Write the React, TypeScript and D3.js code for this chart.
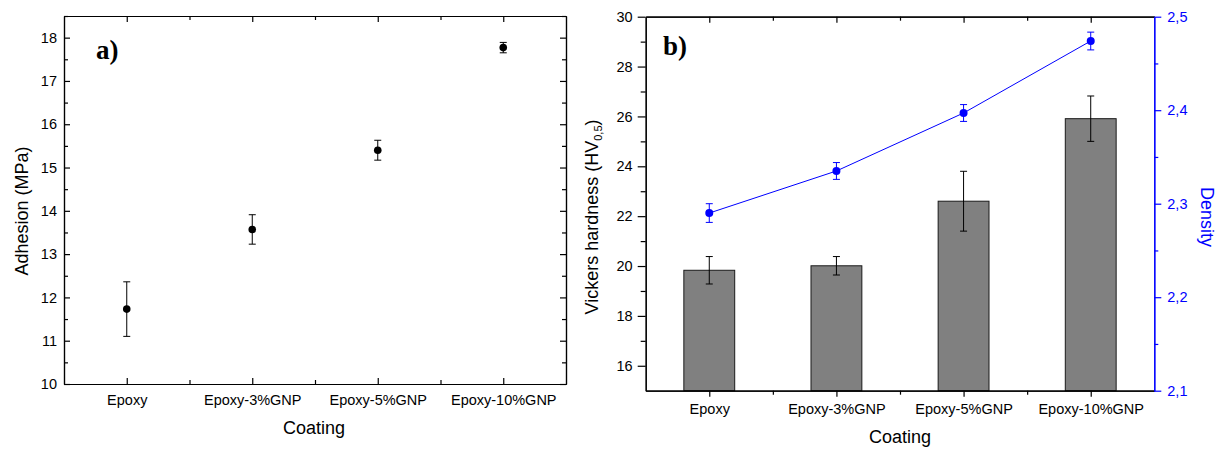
import React, { useRef, useEffect } from 'react'
import * as d3 from 'd3'

// categories on both panels
const coatings = ["Epoxy", "Epoxy-3%GNP", "Epoxy-5%GNP", "Epoxy-10%GNP"]

// panel a) adhesion (MPa)
const adhesion = [11.73, 13.57, 15.40, 17.77]
const adhesionErr = [0.63, 0.34, 0.23, 0.12]

// panel b) Vickers hardness bars + density line
const hardness = [19.83, 20.01, 22.60, 25.91]
const hardnessErr = [0.55, 0.37, 1.20, 0.91]
const density = [2.290, 2.335, 2.397, 2.474]
const densityErr = [0.010, 0.009, 0.009, 0.0095]

const adhesionTicks = [10, 11, 12, 13, 14, 15, 16, 17, 18]
const hardnessTicks = [16, 18, 20, 22, 24, 26, 28, 30]
const densityTicks = [2.1, 2.2, 2.3, 2.4, 2.5]

const FONT = '"Liberation Sans", Arial, sans-serif'
const BLUE = '#0000ff'

const commaFmt = d3.formatLocale({ decimal: ",", thousands: ".", grouping: [3], currency: ["", ""] }).format(".1f")

const App = () => {
  const ref = useRef<SVGSVGElement>(null)

  useEffect(() => {
    const svg = d3.select(ref.current)
    svg.selectAll("*").remove()

    const styleAxis = (g: any, color = "#000") => {
      g.selectAll("path.domain").attr("stroke", color).attr("stroke-width", 1.2)
      g.selectAll(".tick line").attr("stroke", color).attr("stroke-width", 1.2)
      g.selectAll("text").attr("font-family", FONT).attr("font-size", 14.5).attr("fill", color)
      g.attr("font-family", FONT)
    }

    // error bar with caps
    const errBar = (g: any, cx: number, y1: number, y2: number) => {
      g.append("line").attr("x1", cx).attr("x2", cx).attr("y1", y1).attr("y2", y2)
      g.append("line").attr("x1", cx - 3.5).attr("x2", cx + 3.5).attr("y1", y1).attr("y2", y1)
      g.append("line").attr("x1", cx - 3.5).attr("x2", cx + 3.5).attr("y1", y2).attr("y2", y2)
    }

    // ---------------- panel a ----------------
    const xA = d3.scaleLinear().domain([0.5, 4.5]).range([64, 566])
    const yA = d3.scaleLinear().domain([10, 18.5]).range([384, 16])
    const a = svg.append("g")

    const minorX = [1.5, 2.5, 3.5]
    const minorA = d3.range(10.5, 18.6, 1)

    a.append("g").attr("transform", "translate(0,384)")
      .call(d3.axisBottom(xA).tickValues([1, 2, 3, 4]).tickFormat((d: any) => coatings[d - 1]).tickSizeInner(-6).tickSizeOuter(0).tickPadding(11))
      .call(styleAxis)
    a.append("g").attr("transform", "translate(0,384)")
      .call(d3.axisBottom(xA).tickValues(minorX).tickFormat(() => "").tickSizeInner(-4).tickSizeOuter(0))
      .call(styleAxis)
    a.append("g").attr("transform", "translate(0,16)")
      .call(d3.axisTop(xA).tickValues([1, 2, 3, 4]).tickFormat(() => "").tickSizeInner(-6).tickSizeOuter(0))
      .call(styleAxis)
    a.append("g").attr("transform", "translate(0,16)")
      .call(d3.axisTop(xA).tickValues(minorX).tickFormat(() => "").tickSizeInner(-4).tickSizeOuter(0))
      .call(styleAxis)
    a.append("g").attr("transform", "translate(64,0)")
      .call(d3.axisLeft(yA).tickValues(adhesionTicks).tickFormat(d3.format("d")).tickSizeInner(-6).tickSizeOuter(0).tickPadding(7))
      .call(styleAxis)
    a.append("g").attr("transform", "translate(64,0)")
      .call(d3.axisLeft(yA).tickValues(minorA).tickFormat(() => "").tickSizeInner(-4).tickSizeOuter(0))
      .call(styleAxis)
    a.append("g").attr("transform", "translate(566,0)")
      .call(d3.axisRight(yA).tickValues(adhesionTicks).tickFormat(() => "").tickSizeInner(-6).tickSizeOuter(0))
      .call(styleAxis)
    a.append("g").attr("transform", "translate(566,0)")
      .call(d3.axisRight(yA).tickValues(minorA).tickFormat(() => "").tickSizeInner(-4).tickSizeOuter(0))
      .call(styleAxis)

    const aPts = adhesion.map((v, i) => ({ x: i + 1, v, e: adhesionErr[i] }))
    const aErr = a.append("g").attr("stroke", "#000").attr("stroke-width", 1)
    aPts.forEach(d => errBar(aErr, xA(d.x), yA(d.v - d.e), yA(d.v + d.e)))
    a.selectAll(".aPt").data(aPts).join("circle").attr("class", "aPt")
      .attr("cx", d => xA(d.x)).attr("cy", d => yA(d.v)).attr("r", 3.8).attr("fill", "#000")

    a.append("text").attr("x", 96).attr("y", 59).attr("font-family", '"Liberation Serif", "Times New Roman", serif')
      .attr("font-weight", "bold").attr("font-size", 27).text("a)")
    a.append("text").attr("transform", `translate(28,211) rotate(-90)`).attr("text-anchor", "middle")
      .attr("font-family", FONT).attr("font-size", 18).text("Adhesion (MPa)")
    a.append("text").attr("x", 314).attr("y", 434).attr("text-anchor", "middle")
      .attr("font-family", FONT).attr("font-size", 18).text("Coating")

    // ---------------- panel b ----------------
    const xB = d3.scaleLinear().domain([0.5, 4.5]).range([645.7, 1154.3])
    const yB = d3.scaleLinear().domain([15, 30]).range([390.7, 16.7])
    const yD = d3.scaleLinear().domain([2.1, 2.5]).range([390.7, 16.7])
    const b = svg.append("g")

    const bars = hardness.map((v, i) => ({ x: i + 1, v, e: hardnessErr[i] }))
    b.selectAll(".bar").data(bars).join("rect").attr("class", "bar")
      .attr("x", d => xB(d.x - 0.2)).attr("width", d => xB(d.x + 0.2) - xB(d.x - 0.2))
      .attr("y", d => yB(d.v)).attr("height", d => yB(15) - yB(d.v))
      .attr("fill", "#808080").attr("stroke", "#1a1a1a").attr("stroke-width", 1)
    const bErr = b.append("g").attr("stroke", "#000").attr("stroke-width", 1)
    bars.forEach(d => errBar(bErr, xB(d.x), yB(d.v - d.e), yB(d.v + d.e)))

    const dPts = density.map((v, i) => ({ x: i + 1, v, e: densityErr[i] }))
    b.append("path").datum(dPts)
      .attr("d", d3.line<any>().x(d => xB(d.x)).y(d => yD(d.v)))
      .attr("fill", "none").attr("stroke", BLUE).attr("stroke-width", 1)
    const dErr = b.append("g").attr("stroke", BLUE).attr("stroke-width", 1)
    dPts.forEach(d => errBar(dErr, xB(d.x), yD(d.v - d.e), yD(d.v + d.e)))
    b.selectAll(".dPt").data(dPts).join("circle").attr("class", "dPt")
      .attr("cx", d => xB(d.x)).attr("cy", d => yD(d.v)).attr("r", 4).attr("fill", BLUE)

    const minorB = d3.range(17, 30, 2)
    const minorD = [2.15, 2.25, 2.35, 2.45]

    b.append("g").attr("transform", "translate(0,390.7)")
      .call(d3.axisBottom(xB).tickValues([1, 2, 3, 4]).tickFormat((d: any) => coatings[d - 1]).tickSizeInner(6).tickSizeOuter(0).tickPadding(7))
      .call(styleAxis)
    b.append("g").attr("transform", "translate(0,390.7)")
      .call(d3.axisBottom(xB).tickValues(minorX).tickFormat(() => "").tickSizeInner(4).tickSizeOuter(0))
      .call(styleAxis)
    b.append("g").attr("transform", "translate(0,16.7)")
      .call(d3.axisTop(xB).tickValues([1, 2, 3, 4]).tickFormat(() => "").tickSizeInner(-6).tickSizeOuter(0))
      .call(styleAxis)
    b.append("g").attr("transform", "translate(0,16.7)")
      .call(d3.axisTop(xB).tickValues(minorX).tickFormat(() => "").tickSizeInner(-4).tickSizeOuter(0))
      .call(styleAxis)
    b.append("g").attr("transform", "translate(645.7,0)")
      .call(d3.axisLeft(yB).tickValues(hardnessTicks).tickFormat(d3.format("d")).tickSizeInner(8).tickSizeOuter(0).tickPadding(5))
      .call(styleAxis)
    b.append("g").attr("transform", "translate(645.7,0)")
      .call(d3.axisLeft(yB).tickValues(minorB).tickFormat(() => "").tickSizeInner(5).tickSizeOuter(0))
      .call(styleAxis)
    b.append("g").attr("transform", "translate(1154.3,0)")
      .call(d3.axisRight(yD).tickValues(densityTicks).tickFormat((d: any) => commaFmt(d)).tickSizeInner(7).tickSizeOuter(0).tickPadding(6))
      .call((g: any) => styleAxis(g, BLUE))
    b.append("g").attr("transform", "translate(1154.3,0)")
      .call(d3.axisRight(yD).tickValues(minorD).tickFormat(() => "").tickSizeInner(4).tickSizeOuter(0))
      .call((g: any) => styleAxis(g, BLUE))

    b.append("text").attr("x", 663).attr("y", 55).attr("font-family", '"Liberation Serif", "Times New Roman", serif')
      .attr("font-weight", "bold").attr("font-size", 27).text("b)")

    const yt = b.append("text").attr("transform", `translate(598,217) rotate(-90)`).attr("text-anchor", "middle")
      .attr("font-family", FONT).attr("font-size", 18)
    yt.append("tspan").text("Vickers hardness (HV")
    yt.append("tspan").attr("font-size", 11).attr("dy", 4).text("0,5")
    yt.append("tspan").attr("dy", -4).text(")")

    b.append("text").attr("transform", `translate(1201,217) rotate(90)`).attr("text-anchor", "middle")
      .attr("font-family", FONT).attr("font-size", 18).attr("fill", BLUE).text("Density")
    b.append("text").attr("x", 900).attr("y", 443).attr("text-anchor", "middle")
      .attr("font-family", FONT).attr("font-size", 18).text("Coating")
  }, [])

  return (
    <svg ref={ref} width={1224} height={450}
      style={{ position: "absolute", left: 0, top: 0, background: "#fff" }} />
  )
}

export default App
